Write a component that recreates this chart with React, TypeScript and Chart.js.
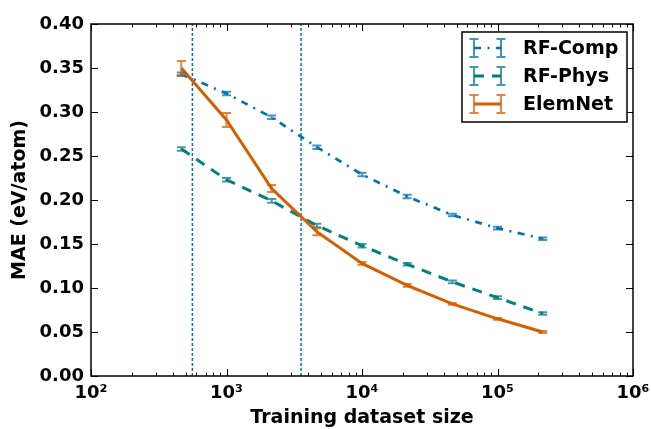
import React, { useEffect, useRef } from "react";
import { Chart, registerables } from "chart.js";

Chart.register(...registerables);

// ---- data ----
const trainingSizes = [464, 1000, 2154, 4642, 10000, 21544, 46416, 100000, 215443];
const rfCompMae = [0.343, 0.321, 0.294, 0.26, 0.229, 0.204, 0.183, 0.168, 0.156];
const rfCompErr = [0.002, 0.002, 0.002, 0.002, 0.002, 0.002, 0.0015, 0.0015, 0.0015];
const rfPhysMae = [0.258, 0.223, 0.199, 0.171, 0.148, 0.127, 0.107, 0.089, 0.071];
const rfPhysErr = [0.002, 0.002, 0.002, 0.002, 0.002, 0.0015, 0.0015, 0.0015, 0.0015];
const elemNetMae = [0.35, 0.291, 0.213, 0.164, 0.128, 0.103, 0.082, 0.065, 0.05];
const elemNetErr = [0.008, 0.008, 0.004, 0.004, 0.0015, 0.0015, 0.001, 0.001, 0.001];
const crossoverSizes = [560, 3550];
const seriesNames = ["RF-Comp", "RF-Phys", "ElemNet"];
const xTickValues = [100, 1000, 10000, 100000, 1000000];
const yMin = 0;
const yMax = 0.4;
const yStep = 0.05;
const xLabel = "Training dataset size";
const yLabel = "MAE (eV/atom)";

// ---- styles ----
const BLUE = "#0072B2";
const TEAL = "#008080";
const ORANGE = "#D55E00";
const FONT = "'DejaVu Sans', 'Liberation Sans', sans-serif";
const W = 651;
const H = 429;

const SUP: Record<number, string> = { 2: "\u00B2", 3: "\u00B3", 4: "\u2074", 5: "\u2075", 6: "\u2076" };

const seriesStyles = [
  { color: BLUE, width: 2.7, dash: [7, 6.5, 2, 6.5] },
  { color: TEAL, width: 3, dash: [10, 8] },
  { color: ORANGE, width: 3, dash: [] as number[] },
];

function pts(xs: number[], ys: number[]) {
  return xs.map((x, i) => ({ x, y: ys[i] }));
}

const frameTicksPlugin = {
  id: "frameTicks",
  afterDraw(chart: any) {
    const { ctx, chartArea: a, scales } = chart;
    const xs = scales.x;
    const ys = scales.y;
    ctx.save();
    ctx.strokeStyle = "#000";
    ctx.lineWidth = 1;
    const major = 7;
    const minor = 3.5;
    ctx.beginPath();
    for (let d = 2; d <= 6; d++) {
      for (let m = 1; m <= 9; m++) {
        const v = m * Math.pow(10, d);
        if (v > 1e6) break;
        const px = Math.round(xs.getPixelForValue(v)) + 0.5;
        const len = m === 1 ? major : minor;
        ctx.moveTo(px, a.bottom);
        ctx.lineTo(px, a.bottom - len);
        ctx.moveTo(px, a.top);
        ctx.lineTo(px, a.top + len);
      }
    }
    for (let v = yMin; v <= yMax + 1e-9; v += yStep) {
      const py = Math.round(ys.getPixelForValue(v)) + 0.5;
      ctx.moveTo(a.left, py);
      ctx.lineTo(a.left + major, py);
      ctx.moveTo(a.right, py);
      ctx.lineTo(a.right - major, py);
    }
    ctx.stroke();
    ctx.lineWidth = 1.5;
    ctx.strokeRect(a.left, a.top, a.right - a.left, a.bottom - a.top);
    ctx.restore();
  },
};

function drawErrI(ctx: CanvasRenderingContext2D, x: number, y1: number, y2: number, cap: number) {
  ctx.beginPath();
  ctx.moveTo(x, y1);
  ctx.lineTo(x, y2);
  ctx.moveTo(x - cap, y1);
  ctx.lineTo(x + cap, y1);
  ctx.moveTo(x - cap, y2);
  ctx.lineTo(x + cap, y2);
  ctx.stroke();
}

const errorBarPlugin = {
  id: "errorBars",
  afterDatasetsDraw(chart: any) {
    const { ctx, scales } = chart;
    ctx.save();
    chart.data.datasets.forEach((ds: any) => {
      if (!ds.errors) return;
      ctx.strokeStyle = ds.borderColor;
      ctx.globalAlpha = 0.75;
      ctx.lineWidth = 2;
      ctx.setLineDash([]);
      ds.data.forEach((p: any, i: number) => {
        const e = ds.errors[i];
        const px = scales.x.getPixelForValue(p.x);
        const y1 = scales.y.getPixelForValue(p.y + e);
        const y2 = scales.y.getPixelForValue(p.y - e);
        drawErrI(ctx, px, y1, y2, 4.5);
      });
    });
    ctx.restore();
  },
};

const legendPlugin = {
  id: "errLegend",
  afterDraw(chart: any) {
    const { ctx, chartArea: a } = chart;
    const boxW = 165;
    const boxH = 90;
    const left = a.right - 6 - boxW;
    const top = a.top + 8;
    ctx.save();
    ctx.fillStyle = "#fff";
    ctx.fillRect(left, top, boxW, boxH);
    ctx.strokeStyle = "#000";
    ctx.lineWidth = 1.5;
    ctx.strokeRect(left, top, boxW, boxH);
    seriesNames.forEach((name, i) => {
      const st = seriesStyles[i];
      const cy = top + 16 + i * 28;
      const x1 = left + 12;
      const x2 = left + 39;
      ctx.strokeStyle = st.color;
      ctx.lineWidth = st.width;
      ctx.setLineDash(st.dash);
      ctx.beginPath();
      ctx.moveTo(x1, cy);
      ctx.lineTo(x2, cy);
      ctx.stroke();
      ctx.setLineDash([]);
      ctx.globalAlpha = 0.75;
      ctx.lineWidth = 2;
      drawErrI(ctx, x1, cy - 9, cy + 9, 4.5);
      drawErrI(ctx, x2, cy - 9, cy + 9, 4.5);
      ctx.globalAlpha = 1;
      ctx.fillStyle = "#000";
      ctx.font = `bold 19px ${FONT}`;
      ctx.textBaseline = "middle";
      ctx.textAlign = "left";
      ctx.fillText(name, left + 61, cy + 1);
    });
    ctx.restore();
  },
};

export default function App() {
  const ref = useRef<HTMLCanvasElement | null>(null);
  useEffect(() => {
    document.body.style.margin = "0";
    const canvas = ref.current;
    if (!canvas) return;
    const maeSeries = [rfCompMae, rfPhysMae, elemNetMae];
    const errSeries = [rfCompErr, rfPhysErr, elemNetErr];
    const datasets: any[] = seriesNames.map((name, i) => ({
      label: name,
      data: pts(trainingSizes, maeSeries[i]),
      errors: errSeries[i],
      borderColor: seriesStyles[i].color,
      backgroundColor: seriesStyles[i].color,
      borderWidth: seriesStyles[i].width,
      borderDash: seriesStyles[i].dash,
      pointRadius: 0,
      tension: 0,
      fill: false,
      order: 3 - i,
    }));
    crossoverSizes.forEach((s, i) => {
      datasets.push({
        label: "crossover-" + i,
        data: [
          { x: s, y: yMin },
          { x: s, y: yMax },
        ],
        borderColor: i === 0 ? BLUE : TEAL,
        borderWidth: 1.5,
        borderDash: [3, 2],
        pointRadius: 0,
        fill: false,
        order: 10,
      });
    });

    const tickFont = { family: FONT, size: 18, weight: "bold" as const };
    const titleFont = { family: FONT, size: 19, weight: "bold" as const };

    const chart = new Chart(canvas, {
      type: "line",
      data: { datasets },
      plugins: [errorBarPlugin, frameTicksPlugin, legendPlugin],
      options: {
        responsive: false,
        animation: false,
        devicePixelRatio: 1,
        layout: { padding: { left: 0, top: 24, right: 18, bottom: 0 } },
        plugins: { legend: { display: false }, tooltip: { enabled: false } },
        scales: {
          x: {
            type: "logarithmic",
            min: 100,
            max: 1000000,
            grid: { display: false, drawTicks: false },
            border: { display: false },
            afterBuildTicks: (scale: any) => {
              scale.ticks = xTickValues.map((v) => ({ value: v }));
            },
            afterFit: (scale: any) => {
              scale.height = 53;
              scale.paddingLeft = 0;
              scale.paddingRight = 0;
            },
            ticks: {
              autoSkip: false,
              maxRotation: 0,
              padding: 7,
              color: "#000",
              font: tickFont,
              callback: (v: any) => "10" + SUP[Math.round(Math.log10(Number(v)))],
            },
            title: { display: true, text: xLabel, color: "#000", font: titleFont, padding: { top: 0, bottom: 0 } },
          },
          y: {
            type: "linear",
            min: yMin,
            max: yMax,
            grid: { display: false, drawTicks: false },
            border: { display: false },
            afterFit: (scale: any) => {
              scale.width = 91;
              scale.paddingTop = 0;
              scale.paddingBottom = 0;
            },
            ticks: {
              stepSize: yStep,
              padding: 7,
              color: "#000",
              font: tickFont,
              callback: (v: any) => Number(v).toFixed(2),
            },
            title: { display: true, text: yLabel, color: "#000", font: titleFont, padding: { top: 9, bottom: 0 } },
          },
        },
      },
    });
    return () => chart.destroy();
  }, []);
  return (
    <div style={{ width: W, height: H }}>
      <canvas ref={ref} width={W} height={H} style={{ display: "block" }} />
    </div>
  );
}
